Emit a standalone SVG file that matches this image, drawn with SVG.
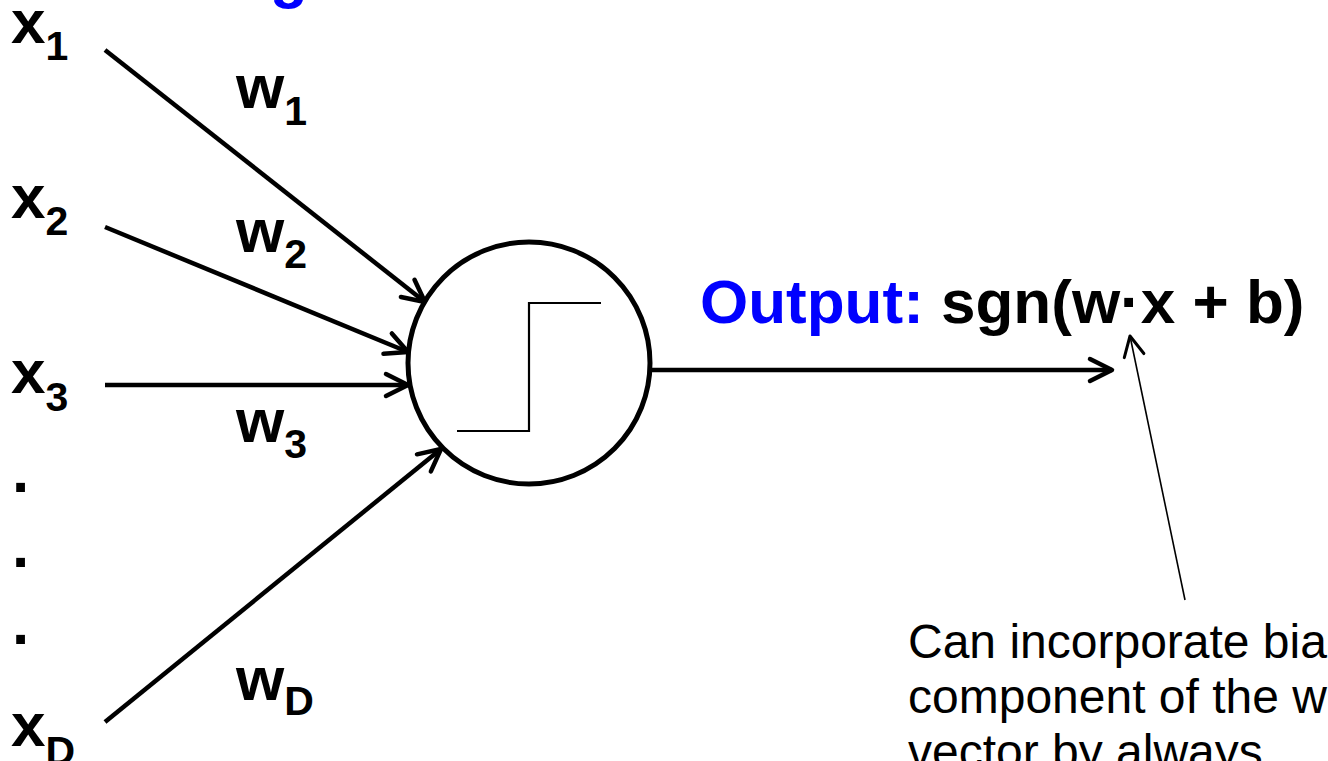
<svg xmlns="http://www.w3.org/2000/svg" width="1328" height="761" viewBox="0 0 1328 761">
  <style>
    .lbl { font-family: "Liberation Sans", Arial, sans-serif; font-weight: bold; font-size: 62px; fill: #000; }
    .sub { font-size: 41px; }
    .blue { fill: #0000FF; }
    .note { font-family: "Liberation Sans", Arial, sans-serif; font-size: 48px; fill: #000; }
    .edge { stroke: #000; stroke-width: 4.5; fill: none; marker-end: url(#chev); }
  </style>
  <defs>
    <marker id="chev" viewBox="-28 -16 32 32" markerWidth="32" markerHeight="32" refX="0" refY="0" orient="auto" markerUnits="userSpaceOnUse">
      <path d="M -22 -11 L 0 0 L -22 11" fill="none" stroke="#000" stroke-width="4.5" stroke-linecap="round" stroke-linejoin="round"/>
    </marker>
    <marker id="chevThin" viewBox="-24 -14 28 28" markerWidth="28" markerHeight="28" refX="0" refY="0" orient="auto" markerUnits="userSpaceOnUse">
      <path d="M -20 -10 L 0 0 L -20 10" fill="none" stroke="#000" stroke-width="3" stroke-linecap="round" stroke-linejoin="round"/>
    </marker>
  </defs>

  <!-- truncated title descender -->
  <text class="lbl blue" x="270" y="-4">g</text>

  <g id="connectors">
    <line class="edge" x1="105" y1="50" x2="425" y2="302"/>
    <line class="edge" x1="105" y1="227" x2="408" y2="352"/>
    <line class="edge" x1="105" y1="385" x2="408" y2="385"/>
    <line class="edge" x1="105" y1="722" x2="441" y2="449"/>
    <line class="edge" x1="650" y1="370" x2="1112" y2="370"/>
    <line x1="1185" y1="600" x2="1130" y2="336" stroke="#000" stroke-width="1.6" marker-end="url(#chevThin)"/>
  </g>

  <g id="neuron">
    <circle cx="529" cy="363" r="121" fill="#fff" stroke="#000" stroke-width="5"/>
    <polyline points="457,431 529,431 529,303 601,303" fill="none" stroke="#000" stroke-width="2.2"/>
  </g>

  <g id="input-x1"><text class="lbl" x="11" y="43">x<tspan class="sub" dy="17">1</tspan></text></g>
  <g id="input-x2"><text class="lbl" x="11" y="218">x<tspan class="sub" dy="17">2</tspan></text></g>
  <g id="input-x3"><text class="lbl" x="11" y="393">x<tspan class="sub" dy="18">3</tspan></text></g>
  <g id="dots">
    <text class="lbl" x="12" y="492">.</text>
    <text class="lbl" x="12" y="567">.</text>
    <text class="lbl" x="12" y="644">.</text>
  </g>
  <g id="input-xD"><text class="lbl" x="11" y="746">x<tspan class="sub" dy="19">D</tspan></text></g>

  <g id="weight-w1"><text class="lbl" x="236" y="108">w<tspan class="sub" dy="17">1</tspan></text></g>
  <g id="weight-w2"><text class="lbl" x="236" y="252">w<tspan class="sub" dy="16">2</tspan></text></g>
  <g id="weight-w3"><text class="lbl" x="236" y="442">w<tspan class="sub" dy="16">3</tspan></text></g>
  <g id="weight-wD"><text class="lbl" x="236" y="700">w<tspan class="sub" dy="15">D</tspan></text></g>

  <g id="output">
    <text class="lbl" x="700" y="323" font-size="63"><tspan class="blue">Output:</tspan> sgn(w·x + b)</text>
  </g>

  <g id="bias-note">
    <text class="note" x="908" y="658">Can incorporate bia</text>
    <text class="note" x="908" y="713">component of the w</text>
    <text class="note" x="908" y="768">vector by always</text>
  </g>
</svg>
